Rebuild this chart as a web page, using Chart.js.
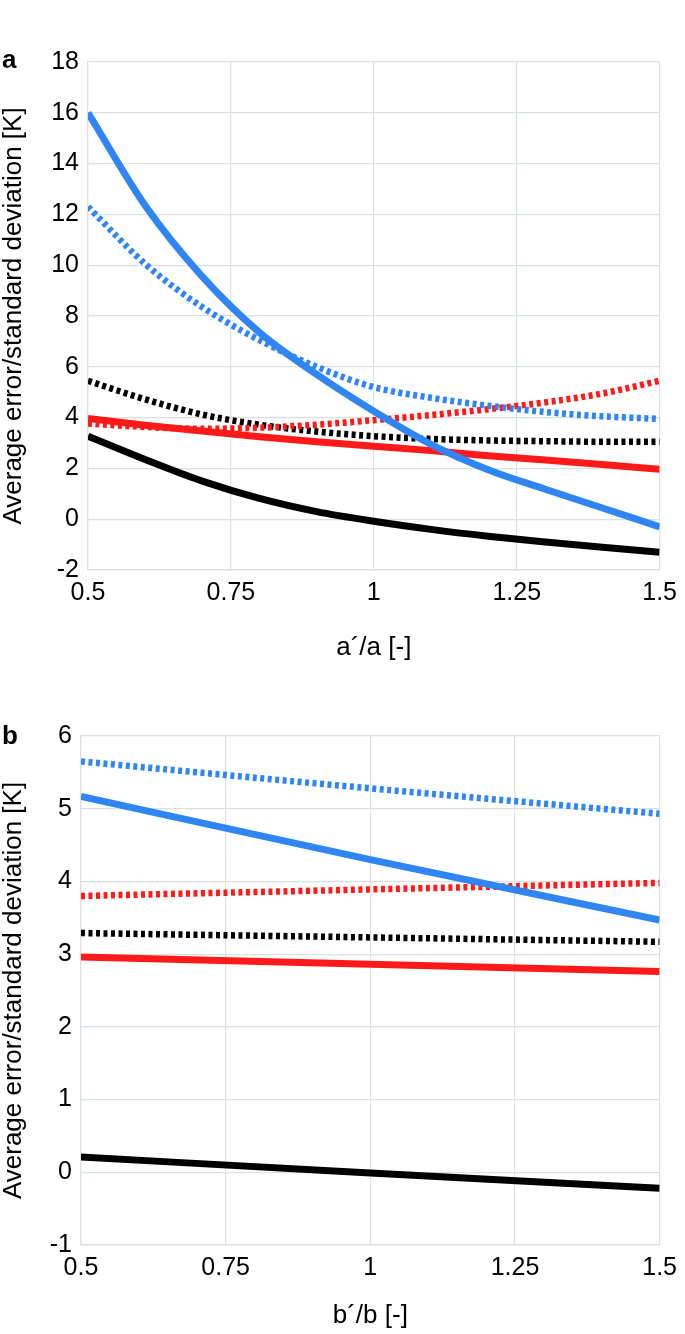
<!DOCTYPE html>
<html>
<head>
<meta charset="utf-8">
<script src="https://cdn.jsdelivr.net/npm/chart.js@4"></script>
<style>
  body { margin: 0; background: #fff; width: 685px; height: 1334px; position: relative; overflow: hidden; }
  .panel { position: absolute; left: 0; width: 685px; }
  #wrapA { top: 0; height: 680px; }
  #wrapB { top: 680px; height: 654px; }
  .tag { position: absolute; font: bold 26px "Liberation Sans", Arial, sans-serif; color: #000; line-height: 30px; }
</style>
</head>
<body>
<div class="panel" id="wrapA"><canvas id="chartA" width="685" height="680"></canvas></div>
<div class="panel" id="wrapB"><canvas id="chartB" width="685" height="654"></canvas></div>
<div class="tag" style="left:2px; top:44px;">a</div>
<div class="tag" style="left:2px; top:720px;">b</div>
<script>
// panel a: x = a'/a
const xA = [0.5, 0.6, 0.7, 0.8, 0.9, 1.0, 1.1, 1.2, 1.3, 1.4, 1.5];
const blueSolidA  = [16.0, 12.35, 9.55, 7.35, 5.7, 4.25, 2.95, 1.95, 1.18, 0.44, -0.3];
const blueDotA    = [12.3, 10.05, 8.35, 7.05, 6.0, 5.2, 4.78, 4.47, 4.22, 4.05, 3.95];
const blackSolidA = [3.27, 2.35, 1.5, 0.82, 0.3, -0.08, -0.4, -0.67, -0.9, -1.1, -1.3];
const blackDotA   = [5.45, 4.72, 4.12, 3.72, 3.45, 3.27, 3.16, 3.1, 3.07, 3.05, 3.05];
const redSolidA   = [3.97, 3.7, 3.47, 3.25, 3.05, 2.87, 2.7, 2.5, 2.33, 2.15, 1.97];
const redDotA     = [3.77, 3.63, 3.56, 3.6, 3.72, 3.9, 4.1, 4.33, 4.6, 4.95, 5.45];

// panel b: x = b'/b
const xB = [0.5, 1.0, 1.5];
const blueSolidB  = [5.17, 4.3, 3.47];
const blueDotB    = [5.65, 5.28, 4.93];
const redDotB     = [3.8, 3.89, 3.98];
const blackDotB   = [3.29, 3.23, 3.17];
const redSolidB   = [2.96, 2.86, 2.76];
const blackSolidB = [0.21, -0.01, -0.22];

const xTicks = [0.5, 0.75, 1, 1.25, 1.5];
const yLabel = "Average error/standard deviation [K]";

const BLUE = "#2f86f2";
const RED = "#ff1a1a";
const BLACK = "#000000";
const GRID = "#d9e2e0";
const FONT = "'Liberation Sans', Arial, sans-serif";

function pts(xs, ys) {
  return xs.map((x, i) => ({ x: x, y: ys[i] }));
}

function line(xs, ys, color, dotted) {
  return {
    data: pts(xs, ys),
    borderColor: color,
    borderWidth: dotted ? 6.5 : 7,
    borderDash: dotted ? [4, 3.5] : [],
    borderCapStyle: "butt",
    pointRadius: 0,
    fill: false,
    cubicInterpolationMode: "monotone"
  };
}

function makeChart(id, xs, series, yMin, yMax, yStep, xTitle, opts) {
  const ctx = document.getElementById(id).getContext("2d");
  return new Chart(ctx, {
    type: "line",
    data: {
      datasets: series.map(s => line(xs, s[0], s[1], s[2]))
    },
    options: {
      responsive: false,
      animation: false,
      layout: { padding: { top: opts.top, right: 24, left: 0, bottom: 0 } },
      plugins: { legend: { display: false }, tooltip: { enabled: false } },
      scales: {
        x: {
          type: "linear",
          min: 0.5,
          max: 1.5,
          afterBuildTicks: axis => { axis.ticks = xTicks.map(v => ({ value: v })); },
          afterFit: axis => { axis.height = opts.xHeight; },
          grid: { color: GRID, lineWidth: 1.2, drawTicks: false },
          border: { color: GRID, width: 1.2 },
          ticks: {
            color: "#000",
            padding: 8,
            maxRotation: 0,
            font: { family: FONT, size: 25 },
            callback: v => String(Number(v.toFixed(2)))
          },
          title: {
            display: true,
            text: xTitle,
            color: "#000",
            font: { family: FONT, size: 26, lineHeight: 1.05 },
            padding: { top: 0, bottom: opts.xTitlePad }
          }
        },
        y: {
          min: yMin,
          max: yMax,
          ticks: {
            stepSize: yStep,
            color: "#000",
            padding: 9,
            font: { family: FONT, size: 25 }
          },
          afterFit: axis => { axis.width = opts.yWidth; },
          grid: { color: GRID, lineWidth: 1.2, drawTicks: false },
          border: { color: GRID, width: 1.2 },
          title: {
            display: true,
            text: yLabel,
            color: "#000",
            font: { family: FONT, size: 26, lineHeight: 1.05 },
            padding: { top: 0, bottom: 0 }
          }
        }
      }
    }
  });
}

makeChart("chartA", xA, [
  [blueSolidA, BLUE, false],
  [redSolidA, RED, false],
  [blackSolidA, BLACK, false],
  [blueDotA, BLUE, true],
  [redDotA, RED, true],
  [blackDotA, BLACK, true]
], -2, 18, 2, "a´/a [-]", { top: 62, xHeight: 110, yWidth: 88, xTitlePad: 19 });

makeChart("chartB", xB, [
  [blueSolidB, BLUE, false],
  [redSolidB, RED, false],
  [blackSolidB, BLACK, false],
  [blueDotB, BLUE, true],
  [redDotB, RED, true],
  [blackDotB, BLACK, true]
], -1, 6, 1, "b´/b [-]", { top: 56, xHeight: 89, yWidth: 81, xTitlePad: 5 });
</script>
</body>
</html>
